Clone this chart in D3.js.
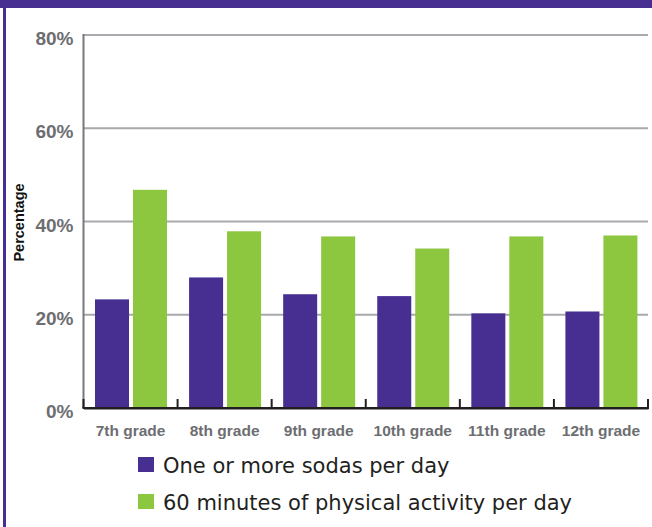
<!DOCTYPE html>
<html>
<head>
<meta charset="utf-8">
<script src="https://cdn.jsdelivr.net/npm/d3@7"></script>
<style>
  html, body { margin: 0; padding: 0; background: #fff; }
  svg { display: block; }
</style>
</head>
<body>
<svg id="chart" width="652" height="527"></svg>
<script>
const categories = ["7th grade", "8th grade", "9th grade", "10th grade", "11th grade", "12th grade"];
const seriesNames = ["One or more sodas per day", "60 minutes of physical activity per day"];
const sodaValues = [23.3, 28.0, 24.4, 24.0, 20.3, 20.7];
const activityValues = [46.8, 37.9, 36.8, 34.2, 36.8, 37.0];
const yTicks = [0, 20, 40, 60, 80];
const colors = ["#472f92", "#8dc63f"];

(function () {
const svg = d3.select("#chart");
const W = 652, H = 527;

// frame
svg.append("rect").attr("x", 0).attr("y", 0).attr("width", W).attr("height", 8).attr("fill", "#472f92");
svg.append("rect").attr("x", 3).attr("y", 0).attr("width", 3).attr("height", H).attr("fill", "#472f92");

const mLeft = 83.5, mRight = 648, mTop = 35, mBottom = 408;
const x = d3.scaleBand().domain(categories).range([mLeft, mRight]).paddingInner(0).paddingOuter(0);
const x1 = d3.scaleBand().domain([0, 1]).range([11.5, 83.5]).paddingInner(0.105).paddingOuter(0);
const y = d3.scaleLinear().domain([0, 80]).range([mBottom, mTop]);

// gridlines
svg.append("g").selectAll("line").data(yTicks.filter(d => d > 0)).join("line")
  .attr("x1", mLeft).attr("x2", mRight)
  .attr("y1", d => y(d)).attr("y2", d => y(d))
  .attr("stroke", "#a7a9ac").attr("stroke-width", 2);

// left axis line
svg.append("line").attr("x1", mLeft).attr("x2", mLeft).attr("y1", mTop - 1).attr("y2", mBottom)
  .attr("stroke", "#77787b").attr("stroke-width", 2);

// y labels
const yAxis = d3.axisLeft(y).tickValues(yTicks).tickFormat(d => d + "%").tickSize(0).tickPadding(10);
const gy = svg.append("g").attr("transform", `translate(${mLeft},0)`).call(yAxis);
gy.select(".domain").remove();
gy.selectAll("text")
  .attr("dy", "0.5em")
  .attr("fill", "#6d6e71")
  .style("font-family", "'Liberation Sans', Arial, sans-serif")
  .style("font-weight", "bold")
  .style("font-size", "19px");

// bars
const data = categories.map((c, i) => ({ cat: c, vals: [sodaValues[i], activityValues[i]] }));
const groups = svg.append("g").selectAll("g").data(data).join("g")
  .attr("transform", d => `translate(${x(d.cat)},0)`);
groups.selectAll("rect").data(d => d.vals.map((v, k) => ({ v, k }))).join("rect")
  .attr("x", d => x1(d.k))
  .attr("width", x1.bandwidth())
  .attr("y", d => y(d.v))
  .attr("height", d => y(0) - y(d.v))
  .attr("fill", d => colors[d.k]);

// x axis
const xAxis = d3.axisBottom(x).tickSize(0).tickPadding(17);
const gx = svg.append("g").attr("transform", `translate(0,${mBottom})`).call(xAxis);
gx.select(".domain").attr("stroke", "#231f20").attr("stroke-width", 2);
gx.selectAll("text")
  .attr("fill", "#6d6e71")
  .style("font-family", "'Liberation Sans', Arial, sans-serif")
  .style("font-weight", "bold")
  .style("font-size", "15.5px");
// band boundary ticks (pointing up)
const bounds = categories.map(c => x(c)).concat([x(categories[categories.length - 1]) + x.bandwidth()]);
svg.append("g").selectAll("line").data(bounds).join("line")
  .attr("x1", d => d).attr("x2", d => d)
  .attr("y1", mBottom).attr("y2", mBottom - 9)
  .attr("stroke", "#231f20").attr("stroke-width", 2);
svg.append("line").attr("x1", mLeft - 1).attr("x2", mRight + 1).attr("y1", mBottom).attr("y2", mBottom)
  .attr("stroke", "#231f20").attr("stroke-width", 2);

// y axis title
svg.append("text")
  .attr("transform", `translate(23.5,${(mTop + mBottom) / 2 + 1}) rotate(-90)`)
  .attr("text-anchor", "middle")
  .attr("fill", "#111")
  .style("font-family", "'Liberation Sans', Arial, sans-serif")
  .style("font-weight", "bold")
  .style("font-size", "14.5px")
  .text("Percentage");

// legend
const legend = svg.append("g").selectAll("g").data(seriesNames).join("g")
  .attr("transform", (d, i) => `translate(138,${457 + i * 37})`);
legend.append("rect").attr("width", 16).attr("height", 15).attr("fill", (d, i) => colors[i]);
legend.append("text")
  .attr("x", 25).attr("y", 15.5)
  .attr("fill", "#231f20")
  .style("font-family", "'DejaVu Sans', sans-serif")
  .style("font-size", "21px")
  .text(d => d);
})();
</script>
</body>
</html>
